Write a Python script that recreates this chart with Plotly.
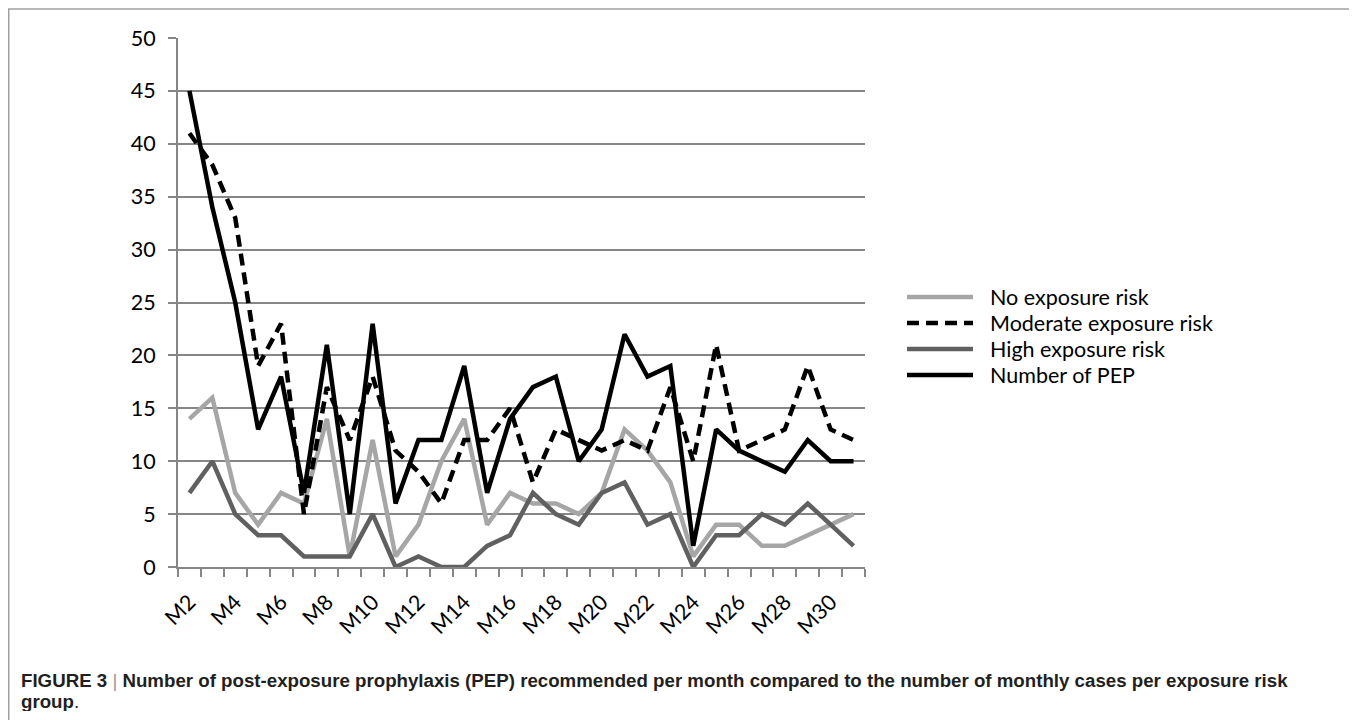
import plotly.graph_objects as go

months = ["M%d" % i for i in range(2, 32)]
tick_labels = ["M%d" % i for i in range(2, 31, 2)]

no_risk = [14, 16, 7, 4, 7, 6, 14, 1, 12, 1, 4, 10, 14, 4, 7, 6, 6, 5, 7, 13,
           11, 8, 1, 4, 4, 2, 2, 3, 4, 5]
moderate_risk = [41, 38, 33, 19, 23, 5, 17, 12, 18, 11, 9, 6, 12, 12, 15, 8, 13, 12, 11, 12,
                 11, 17, 10, 21, 11, 12, 13, 19, 13, 12]
high_risk = [7, 10, 5, 3, 3, 1, 1, 1, 5, 0, 1, 0, 0, 2, 3, 7, 5, 4, 7, 8,
             4, 5, 0, 3, 3, 5, 4, 6, 4, 2]
pep_count = [45, 34, 25, 13, 18, 7, 21, 5, 23, 6, 12, 12, 19, 7, 14, 17, 18, 10, 13, 22,
             18, 19, 2, 13, 11, 10, 9, 12, 10, 10]

series = [
    ("No exposure risk", no_risk, "#A6A6A6", "solid"),
    ("Moderate exposure risk", moderate_risk, "#000000", "12px,7px"),
    ("High exposure risk", high_risk, "#606060", "solid"),
    ("Number of PEP", pep_count, "#000000", "solid"),
]

pos = list(range(len(months)))
label_pos = [months.index(t) for t in tick_labels]

# figure pixel coordinates (page has an 8px body margin)
FW, FH = 1357, 720
L, R, T, B = 170, 857, 30, 559
W, H = R - L, B - T


def px(p):
    return (p - L) / W


def py(q):
    return (B - q) / H


fig = go.Figure()
for name, vals, color, dash in series:
    fig.add_trace(go.Scatter(
        x=pos, y=vals, mode="lines", name=name,
        line=dict(color=color, width=4.5, dash=dash),
        hovertext=months, hoverinfo="text+y", showlegend=False,
    ))

font_main = "Lato, Open Sans, sans-serif"
FS = 21.5

fig.update_layout(
    width=FW, height=FH,
    margin=dict(l=L, r=FW - R, t=T, b=FH - B),
    paper_bgcolor="white", plot_bgcolor="white",
    font=dict(family=font_main, size=FS, color="#000000"),
    showlegend=False,
    xaxis=dict(
        range=[-0.5, len(months) - 0.5],
        tickmode="array", tickvals=label_pos, ticktext=tick_labels,
        tickangle=-45, ticks="", showgrid=False, zeroline=False,
        showline=True, linecolor="#868686", linewidth=2,
        ticklabelstandoff=12,
        tickfont=dict(family=font_main, size=FS, color="#000000"),
        minor=dict(ticks="outside", tick0=-0.5, dtick=1, ticklen=8,
                   tickcolor="#868686", tickwidth=2, showgrid=False),
    ),
    yaxis=dict(
        range=[0, 50], tickmode="linear", tick0=0, dtick=5,
        showgrid=True, gridcolor="#868686", gridwidth=2,
        showline=True, linecolor="#868686", linewidth=2,
        ticks="outside", ticklen=8, tickcolor="#868686", tickwidth=2,
        ticklabelstandoff=8, zeroline=False,
        tickfont=dict(family=font_main, size=FS, color="#000000"),
    ),
)

# legend (drawn manually to match the reference's long line samples)
leg_x0, leg_x1, leg_text = 899, 965, 981
leg_rows = [289, 315, 341, 367]
for (name, vals, color, dash), yy in zip(series, leg_rows):
    fig.add_shape(type="line", xref="paper", yref="paper",
                  x0=px(leg_x0), x1=px(leg_x1), y0=py(yy), y1=py(yy),
                  line=dict(color=color, width=4.5, dash=dash))
    fig.add_annotation(xref="paper", yref="paper", x=px(leg_text), y=py(yy),
                       xanchor="left", yanchor="middle", showarrow=False,
                       height=24, valign="middle", borderpad=0,
                       text=name, font=dict(family=font_main, size=FS, color="#000000"))

border = "#A0A0A0"
for x0, y0, x1, y1 in [(0, 1, 1346, 1), (0.75, 1, 0.75, 720), (1346, 1, 1346, 720)]:
    fig.add_shape(type="line", xref="paper", yref="paper",
                  x0=px(x0), y0=py(y0), x1=px(x1), y1=py(y1),
                  line=dict(color=border, width=1.5))

cap_font = dict(family="Liberation Sans, Arial, sans-serif", size=18.7, color="#231F20")
fig.add_annotation(
    xref="paper", yref="paper", x=px(12), y=py(672), xanchor="left", yanchor="middle",
    showarrow=False, font=cap_font, height=22, borderpad=0,
    text="<b>FIGURE 3</b> <span style='color:#9a9a9a'>|</span> <b>Number of post-exposure prophylaxis (PEP) recommended per month compared to the number of monthly cases per exposure risk</b>",
)
fig.add_annotation(
    xref="paper", yref="paper", x=px(12), y=py(693), xanchor="left", yanchor="middle",
    showarrow=False, font=cap_font, height=20, borderpad=0, text="<b>group</b>.",
)

fig.write_html("out.html")
